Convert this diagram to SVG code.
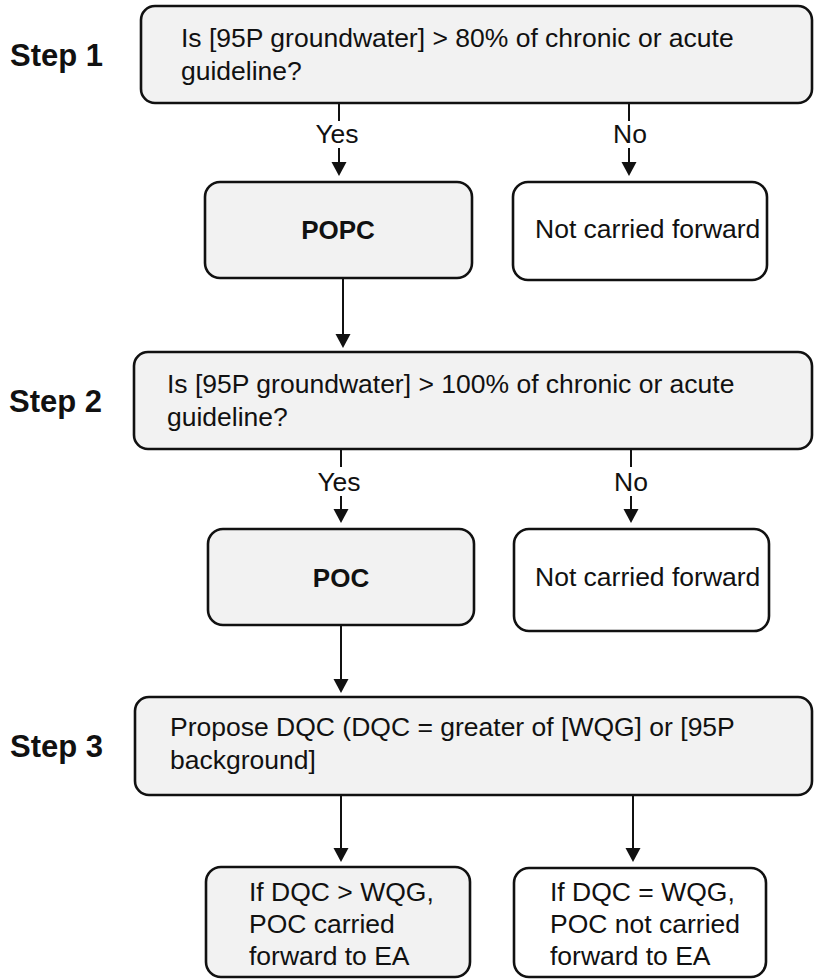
<svg xmlns="http://www.w3.org/2000/svg" width="814" height="980" viewBox="0 0 814 980">
<defs>
<style>
.box{stroke:#111;stroke-width:2.6;}
.grey{fill:#f2f2f2;}
.white{fill:#ffffff;}
.t{font-family:"Liberation Sans",Arial,sans-serif;font-size:26.5px;fill:#111;}
.b{font-family:"Liberation Sans",Arial,sans-serif;font-weight:bold;fill:#111;}
.step{font-size:31px;}
.ln{stroke:#111;stroke-width:2;fill:none;}
.hd{fill:#111;}
</style>
</defs>
<rect width="814" height="980" fill="#ffffff"/>

<g id="step1-label"><text class="b step" x="10" y="66">Step 1</text></g>
<g id="step2-label"><text class="b step" x="9" y="412">Step 2</text></g>
<g id="step3-label"><text class="b step" x="10" y="757">Step 3</text></g>

<g id="q1">
<rect class="box grey" x="141" y="6" width="671" height="97" rx="14"/>
<text class="t" x="181" y="47">Is [95P groundwater] &gt; 80% of chronic or acute</text>
<text class="t" x="181" y="80">guideline?</text>
</g>
<g id="popc">
<rect class="box grey" x="205" y="182" width="267" height="96" rx="15"/>
<text class="b" style="font-size:26px" x="338" y="239" text-anchor="middle">POPC</text>
</g>
<g id="ncf1">
<rect class="box white" x="513" y="182" width="254" height="98" rx="15"/>
<text class="t" x="535" y="238">Not carried forward</text>
</g>
<g id="q2">
<rect class="box grey" x="134" y="352" width="678" height="97" rx="14"/>
<text class="t" x="167" y="393">Is [95P groundwater] &gt; 100% of chronic or acute</text>
<text class="t" x="167" y="426">guideline?</text>
</g>
<g id="poc">
<rect class="box grey" x="208" y="529" width="266" height="96" rx="15"/>
<text class="b" style="font-size:26px" x="341" y="587" text-anchor="middle">POC</text>
</g>
<g id="ncf2">
<rect class="box white" x="514" y="529" width="255" height="102" rx="15"/>
<text class="t" x="535" y="586">Not carried forward</text>
</g>
<g id="q3">
<rect class="box grey" x="135" y="697" width="677" height="98" rx="14"/>
<text class="t" x="170" y="736">Propose DQC (DQC = greater of [WQG] or [95P</text>
<text class="t" x="170" y="769">background]</text>
</g>
<g id="carried">
<rect class="box grey" x="206" y="867" width="264" height="110" rx="15"/>
<text class="t" x="249" y="901">If DQC &gt; WQG,</text>
<text class="t" x="249" y="933">POC carried</text>
<text class="t" x="249" y="965">forward to EA</text>
</g>
<g id="notcarried">
<rect class="box white" x="514" y="868" width="252" height="109" rx="15"/>
<text class="t" x="550" y="901">If DQC = WQG,</text>
<text class="t" x="550" y="933">POC not carried</text>
<text class="t" x="550" y="965">forward to EA</text>
</g>

<g id="connectors">
<line class="ln" x1="339" y1="104" x2="339" y2="121"/>
<text class="t" x="337" y="143" text-anchor="middle">Yes</text>
<line class="ln" x1="339" y1="148" x2="339" y2="164"/>
<polygon class="hd" points="331.5,162 346.5,162 339,176"/>

<line class="ln" x1="629" y1="104" x2="629" y2="121"/>
<text class="t" x="630" y="143" text-anchor="middle">No</text>
<line class="ln" x1="629" y1="148" x2="629" y2="164"/>
<polygon class="hd" points="621.5,162 636.5,162 629,176"/>

<line class="ln" x1="343" y1="278" x2="343" y2="336"/>
<polygon class="hd" points="335.5,334 350.5,334 343,348"/>

<line class="ln" x1="341" y1="450" x2="341" y2="467"/>
<text class="t" x="339" y="491" text-anchor="middle">Yes</text>
<line class="ln" x1="341" y1="496" x2="341" y2="511"/>
<polygon class="hd" points="333.5,509 348.5,509 341,523"/>

<line class="ln" x1="631" y1="450" x2="631" y2="467"/>
<text class="t" x="631" y="491" text-anchor="middle">No</text>
<line class="ln" x1="631" y1="496" x2="631" y2="511"/>
<polygon class="hd" points="623.5,509 638.5,509 631,523"/>

<line class="ln" x1="341" y1="625" x2="341" y2="681"/>
<polygon class="hd" points="333.5,679 348.5,679 341,693"/>

<line class="ln" x1="341" y1="796" x2="341" y2="850"/>
<polygon class="hd" points="333.5,848 348.5,848 341,862"/>

<line class="ln" x1="633" y1="796" x2="633" y2="850"/>
<polygon class="hd" points="625.5,848 640.5,848 633,862"/>
</g>
</svg>
